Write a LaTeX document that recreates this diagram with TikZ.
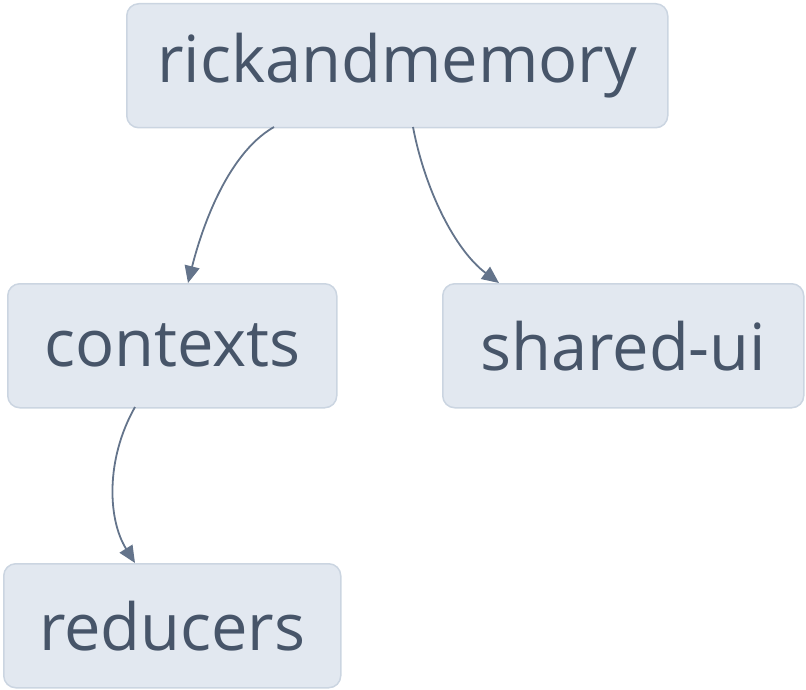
\documentclass[tikz,border=0pt]{standalone}
\usepackage{fontspec}
\setmainfont{Open Sans}
\definecolor{boxfill}{HTML}{E2E8F0}
\definecolor{boxline}{HTML}{CBD5E1}
\definecolor{txt}{HTML}{475569}
\definecolor{edge}{HTML}{64748B}
\usetikzlibrary{arrows.meta}
\begin{document}
\begin{tikzpicture}[x=1pt,y=-1pt,
  box/.style={draw=boxline,line width=1.5pt,fill=boxfill,rounded corners=12pt,
    text=txt,font=\fontsize{65}{78}\selectfont,inner sep=0pt,anchor=north west},
  link/.style={draw=edge,line width=1.8pt,-{Triangle[length=17pt,width=15pt]}}]
\useasboundingbox (0,0) rectangle (806,690);
\node[box,minimum width=541pt,minimum height=124pt] (rick) at (126,3) {rickandmemory};
\node[box,minimum width=329pt,minimum height=124pt] (ctx) at (7,283) {contexts};
\node[box,minimum width=361pt,minimum height=124pt] (shared) at (442,283) {shared-ui};
\node[box,minimum width=337pt,minimum height=124pt] (red) at (3,563) {reducers};
\coordinate (a1) at (274,127);
\coordinate (a2) at (413,127);
\coordinate (a3) at (135,407);
\draw[link] (a1) .. controls (225,155) and (200,235) .. (188,283);
\draw[link] (a2) .. controls (425,190) and (455,250) .. (499,283);
\draw[link] (a3) .. controls (105,460) and (108,520) .. (135,563);
\end{tikzpicture}
\end{document}
